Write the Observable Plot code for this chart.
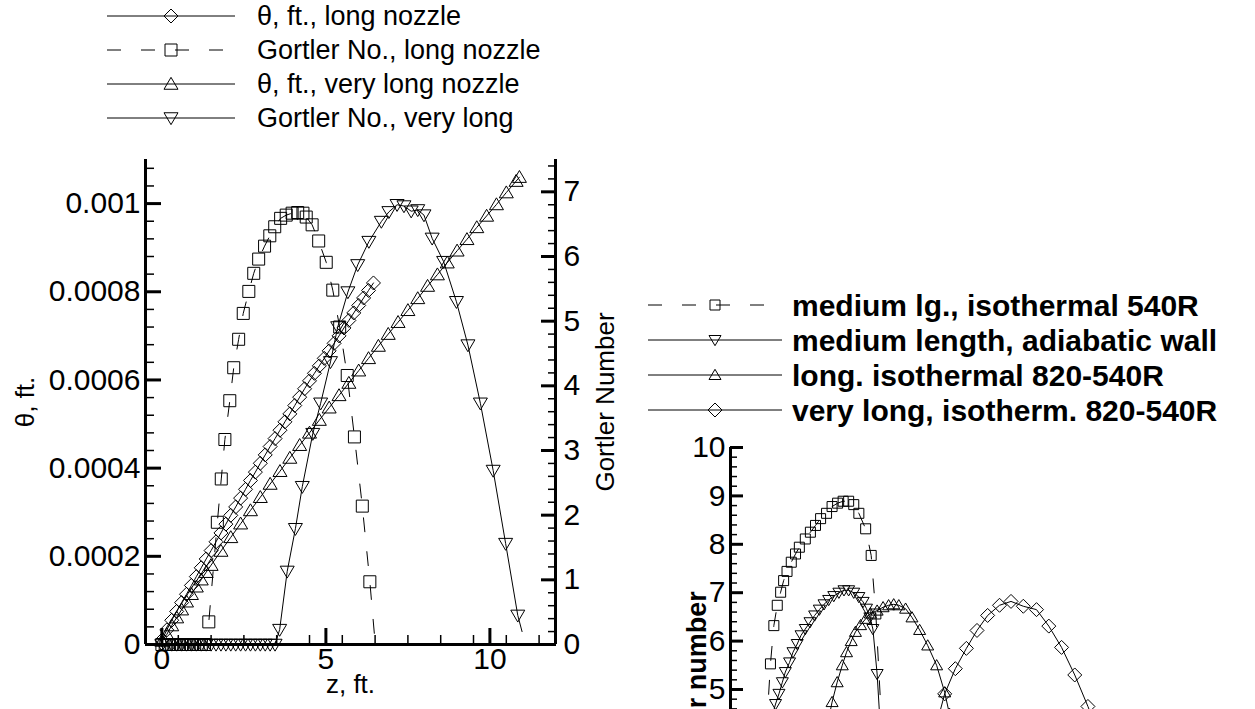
<!DOCTYPE html>
<html><head><meta charset="utf-8">
<script src="https://cdn.jsdelivr.net/npm/d3@7"></script>
<script src="https://cdn.jsdelivr.net/npm/@observablehq/plot@0.6"></script>
<style>
html,body{margin:0;padding:0;background:#fff;}
#root{position:relative;width:1255px;height:709px;overflow:hidden;background:#fff;font-family:"Liberation Sans",Arial,Helvetica,sans-serif;}
#root svg{position:absolute;}
</style></head>
<body><div id="root"></div>
<script>
// ---------------- LEFT PANEL DATA ----------------
const zThetaLong = [0.00,0.15,0.30,0.45,0.60,0.75,0.90,1.05,1.20,1.35,1.50,1.65,1.80,1.95,2.10,2.25,2.40,2.55,2.70,2.85,3.00,3.15,3.30,3.45,3.60,3.75,3.90,4.05,4.20,4.35,4.50,4.65,4.80,4.95,5.10,5.25,5.40,5.55,5.70,5.85,6.00,6.15,6.30,6.45];
const thetaLong = [0.000010,0.000033,0.000055,0.000075,0.000095,0.000114,0.000134,0.000154,0.000174,0.000194,0.000213,0.000233,0.000253,0.000273,0.000293,0.000312,0.000332,0.000352,0.000372,0.000391,0.000411,0.000430,0.000449,0.000467,0.000486,0.000505,0.000523,0.000542,0.000561,0.000580,0.000598,0.000615,0.000632,0.000649,0.000666,0.000683,0.000700,0.000718,0.000735,0.000752,0.000769,0.000786,0.000803,0.000820];

const zThetaVeryLong = [0.00,0.15,0.30,0.45,0.60,0.75,0.90,1.05,1.20,1.35,1.50,1.80,2.10,2.40,2.70,3.00,3.30,3.60,3.90,4.20,4.50,4.80,5.10,5.40,5.70,6.00,6.30,6.60,6.90,7.20,7.50,7.80,8.10,8.40,8.70,9.00,9.30,9.60,9.90,10.20,10.50,10.80,10.90];
const thetaVeryLong = [0.000008,0.000023,0.000043,0.000061,0.000079,0.000097,0.000114,0.000131,0.000147,0.000164,0.000180,0.000212,0.000243,0.000274,0.000304,0.000334,0.000364,0.000393,0.000423,0.000452,0.000480,0.000509,0.000537,0.000565,0.000593,0.000621,0.000649,0.000677,0.000704,0.000731,0.000758,0.000785,0.000813,0.000839,0.000866,0.000893,0.000919,0.000946,0.000972,0.000998,0.001025,0.001051,0.001060];

const zGortLong = [0,0.1,0.2,0.3,0.4,0.5,0.6,0.7,0.8,0.9,1.0,1.1,1.2,1.3,1.43,1.69,1.81,1.92,2.07,2.19,2.34,2.48,2.65,2.80,2.95,3.13,3.29,3.44,3.62,3.79,3.97,4.14,4.30,4.40,4.58,4.78,5.01,5.21,5.42,5.65,5.87,6.11,6.34,6.48];
const gortLong = [0,0,0,0,0,0,0,0,0,0,0,0,0,0,0.35,1.89,2.56,3.17,3.77,4.28,4.72,5.12,5.46,5.74,5.96,6.16,6.32,6.46,6.59,6.64,6.67,6.68,6.67,6.61,6.49,6.24,5.91,5.48,4.91,4.16,3.21,2.14,0.97,0.15];

const zGortVeryLong = [0,0.15,0.30,0.45,0.60,0.75,0.90,1.05,1.20,1.35,1.50,1.65,1.80,1.95,2.10,2.25,2.40,2.55,2.70,2.85,3.00,3.15,3.30,3.45,3.59,3.82,4.07,4.28,4.60,4.84,5.14,5.36,5.67,5.97,6.31,6.69,6.92,7.17,7.38,7.60,7.80,7.99,8.24,8.59,8.98,9.33,9.71,10.10,10.48,10.85,10.98];
const gortVeryLong = [0,0,0,0,0,0,0,0,0,0,0,0,0,0,0,0,0,0,0,0,0,0,0,0,0.23,1.13,1.79,2.44,3.26,3.73,4.37,4.91,5.45,5.87,6.23,6.54,6.69,6.80,6.78,6.70,6.72,6.64,6.28,5.92,5.30,4.63,3.73,2.69,1.56,0.45,0.20];

const zTicks = [0, 5, 10];
const thetaTicks = [0, 0.0002, 0.0004, 0.0006, 0.0008, 0.001];
const thetaTickLabels = ["0", "0.0002", "0.0004", "0.0006", "0.0008", "0.001"];
const gortTicks = [0, 1, 2, 3, 4, 5, 6, 7];

const legendLeftLabels = ["θ, ft., long nozzle", "Gortler No., long nozzle", "θ, ft., very long nozzle", "Gortler No., very long"];

// ---------------- RIGHT PANEL DATA ----------------
const uMedIso = [0.85,0.94,1.02,1.10,1.18,1.25,1.33,1.43,1.53,1.62,1.76,1.88,2.00,2.12,2.26,2.39,2.52,2.65,2.78,2.90,3.02,3.18,3.31,3.42,3.55];
const gMedIso = [4.20,5.53,6.32,6.74,7.01,7.25,7.44,7.63,7.80,7.94,8.11,8.25,8.39,8.53,8.64,8.78,8.85,8.89,8.89,8.82,8.64,8.32,7.77,6.56,4.40];

const uMedAdi = [0.98,1.06,1.14,1.22,1.29,1.39,1.47,1.57,1.66,1.76,1.87,1.98,2.09,2.20,2.31,2.43,2.55,2.67,2.78,2.90,3.02,3.12,3.20,3.28,3.35,3.45,3.52];
const gMedAdi = [4.45,4.70,4.91,5.15,5.36,5.56,5.77,5.94,6.12,6.25,6.39,6.53,6.65,6.76,6.85,6.93,7.00,7.05,7.05,7.00,6.91,6.81,6.67,6.49,6.25,5.32,4.30];

const uLongIso = [2.30,2.39,2.51,2.63,2.73,2.84,2.94,3.06,3.18,3.29,3.45,3.59,3.72,3.84,3.96,4.12,4.27,4.45,4.64,4.85,5.04,5.15];
const gLongIso = [4.35,4.74,5.15,5.50,5.77,6.00,6.19,6.33,6.46,6.57,6.63,6.70,6.74,6.76,6.74,6.67,6.49,6.23,5.91,5.50,4.94,4.50];

const uVeryLongIso = [4.90,5.04,5.29,5.55,5.80,6.05,6.33,6.60,6.89,7.20,7.49,7.79,8.10,8.41,8.65];
const gVeryLongIso = [4.45,4.91,5.43,5.85,6.22,6.53,6.74,6.82,6.72,6.65,6.31,5.87,5.30,4.65,4.10];

const rightGTicks = [0,1,2,3,4,5,6,7,8,9,10];
const legendRightLabels = ["medium lg., isothermal 540R", "medium length, adiabatic wall", "long. isothermal 820-540R", "very long, isotherm. 820-540R"];

// ---------------- helpers ----------------
const FONT = '"Liberation Sans", Arial, Helvetica, sans-serif';
const DASH = "14,20";
function sym(fn) { return {draw(c, size) { fn(c, Math.sqrt(size / Math.PI)); }}; }
const diamondSym = sym((c, h) => { c.moveTo(0, -h); c.lineTo(h, 0); c.lineTo(0, h); c.lineTo(-h, 0); c.closePath(); });
const squareSym = sym((c, h) => { c.moveTo(-h, -h); c.lineTo(h, -h); c.lineTo(h, h); c.lineTo(-h, h); c.closePath(); });
const upTriSym = sym((c, h) => { c.moveTo(0, -0.95 * h); c.lineTo(h, 0.75 * h); c.lineTo(-h, 0.75 * h); c.closePath(); });
const downTriSym = sym((c, h) => { c.moveTo(0, 0.95 * h); c.lineTo(h, -0.75 * h); c.lineTo(-h, -0.75 * h); c.closePath(); });

const pts = (xs, ys) => xs.map((x, i) => ({x, y: ys[i]}));
const minor = (lo, hi, step, majors) => d3.range(lo, hi + step / 2, step).map(v => +v.toFixed(6)).filter(v => !majors.some(m => Math.abs(m - v) < step / 10));
const intFmt = d => String(d);

function series(data, symbol, r, dashed, skipLast) {
  const dots = skipLast ? data.slice(0, -1) : data;
  return [
    Plot.line(data, {x: "x", y: "y", stroke: "black", strokeWidth: 1, strokeDasharray: dashed ? DASH : null}),
    Plot.dot(dots, {x: "x", y: "y", symbol, r, fill: "none", stroke: "black", strokeWidth: 1})
  ];
}

const root = document.getElementById("root");
function place(svg, left, top) { svg.style.left = left + "px"; svg.style.top = top + "px"; root.appendChild(svg); }

const TICK_FS = 30, TITLE_FS = 26;
const baseStyle = {fontFamily: FONT, fontSize: TICK_FS + "px", background: "transparent", color: "black", overflow: "visible"};

// ---------------- LEFT PANEL: theta (left axis) ----------------
const W = 640, H = 559, mL = 145, mR = 85, mT = 9, mB = 65;
const plotTheta = Plot.plot({
  width: W, height: H, marginLeft: mL, marginRight: mR, marginTop: mT, marginBottom: mB,
  style: baseStyle,
  x: {domain: [-0.5, 12]},
  y: {domain: [0, 0.0011]},
  marks: [
    ...series(pts(zThetaLong, thetaLong), diamondSym, 7, false, false),
    ...series(pts(zThetaVeryLong, thetaVeryLong), upTriSym, 7, false, false),
    Plot.axisX(minor(-0.5, 12, 1, zTicks).filter(v => v > -0.5 && v < 12), {tickSize: -9, strokeWidth: 1.5, fill: "none"}),
    Plot.axisX(zTicks, {tickSize: -16, strokeWidth: 3, fill: "none"}),
    Plot.axisX(zTicks, {tickSize: 0, tickPadding: 3, label: null, fontSize: TICK_FS, tickFormat: intFmt}),
    Plot.axisY(minor(0, 0.00108, 0.00004, thetaTicks), {tickSize: -9, strokeWidth: 1.5, fill: "none"}),
    Plot.axisY(thetaTicks, {tickSize: -16, strokeWidth: 3, fill: "none"}),
    Plot.axisY(thetaTicks, {tickSize: 0, tickPadding: 5, label: null, fontSize: TICK_FS,
      tickFormat: d => thetaTickLabels[thetaTicks.indexOf(d)]}),
    Plot.ruleX([-0.5], {strokeWidth: 3}),
    Plot.ruleY([0], {strokeWidth: 3}),
    Plot.text(["z, ft."], {frameAnchor: "bottom", dy: 48, fontSize: TITLE_FS, textAnchor: "middle"}),
    Plot.text(["θ, ft."], {frameAnchor: "left", dx: -120, rotate: -90, fontSize: TITLE_FS, textAnchor: "middle"})
  ]
});
place(plotTheta, 0, 150);

// ---------------- LEFT PANEL: Gortler (right axis) ----------------
const plotGort = Plot.plot({
  width: W, height: H, marginLeft: mL, marginRight: mR, marginTop: mT, marginBottom: mB,
  style: baseStyle,
  x: {domain: [-0.5, 12], axis: null},
  y: {domain: [0, 7.5]},
  marks: [
    ...series(pts(zGortLong, gortLong), squareSym, 6, true, true),
    ...series(pts(zGortVeryLong, gortVeryLong), downTriSym, 7, false, true),
    Plot.axisY(minor(0, 7.4, 0.2, gortTicks), {anchor: "right", tickSize: -8, strokeWidth: 1.5, fill: "none"}),
    Plot.axisY(gortTicks, {anchor: "right", tickSize: -15, strokeWidth: 3, fill: "none"}),
    Plot.axisY(gortTicks, {anchor: "right", tickSize: 0, tickPadding: 8, label: null, fontSize: TICK_FS, tickFormat: intFmt}),
    Plot.ruleX([12], {strokeWidth: 3}),
    Plot.text(["Gortler Number"], {frameAnchor: "right", dx: 50, rotate: -90, fontSize: TITLE_FS, textAnchor: "middle"})
  ]
});
place(plotGort, 0, 150);

// ---------------- RIGHT PANEL ----------------
const plotRight = Plot.plot({
  width: 655, height: 560, marginLeft: 130, marginRight: 15, marginTop: 17, marginBottom: 59,
  style: baseStyle,
  x: {domain: [0, 12], axis: null},
  y: {domain: [0, 10]},
  marks: [
    ...series(pts(uMedIso, gMedIso), squareSym, 5, true, false),
    ...series(pts(uMedAdi, gMedAdi), downTriSym, 6, false, false),
    ...series(pts(uLongIso, gLongIso), upTriSym, 6, false, false),
    ...series(pts(uVeryLongIso, gVeryLongIso), diamondSym, 7, false, false),
    Plot.axisY(minor(0, 9.8, 0.2, rightGTicks), {tickSize: -7, strokeWidth: 1.5, fill: "none"}),
    Plot.axisY(rightGTicks, {tickSize: -13, strokeWidth: 3, fill: "none"}),
    Plot.axisY(rightGTicks, {tickSize: 0, tickPadding: 5, label: null, fontSize: TICK_FS, tickFormat: intFmt}),
    Plot.ruleX([0], {strokeWidth: 3}),
    Plot.ruleY([0], {strokeWidth: 3}),
    Plot.text(["Gortler number"], {x: 0, y: 5, dx: -33, rotate: -90, fontSize: 27, fontWeight: "bold", textAnchor: "middle"})
  ]
});
place(plotRight, 600, 430);

// ---------------- LEGENDS ----------------
function legend(opts) {
  const svg = d3.create("svg").attr("width", opts.width).attr("height", opts.height)
    .attr("font-family", FONT);
  opts.rows.forEach((row, i) => {
    const y = opts.y0 + i * opts.dy;
    const g = svg.append("g");
    g.append("line").attr("x1", opts.x1).attr("x2", opts.x2).attr("y1", y).attr("y2", y)
      .attr("stroke", "black").attr("stroke-width", 1)
      .attr("stroke-dasharray", row.dashed ? DASH : null);
    g.append("path").attr("d", d3.symbol(row.symbol, Math.PI * row.r * row.r)())
      .attr("transform", `translate(${(opts.x1 + opts.x2) / 2},${y})`)
      .attr("fill", "none").attr("stroke", "black").attr("stroke-width", 1);
    g.append("text").attr("x", opts.tx).attr("y", y).attr("dy", "0.35em")
      .attr("font-size", opts.fontSize).attr("font-weight", opts.fontWeight || "normal")
      .text(row.label);
  });
  return svg.node();
}

place(legend({
  width: 600, height: 140, x1: 107, x2: 235, tx: 257, y0: 16, dy: 34, fontSize: 27,
  rows: [
    {label: legendLeftLabels[0], symbol: diamondSym, r: 7, dashed: false},
    {label: legendLeftLabels[1], symbol: squareSym, r: 6, dashed: true},
    {label: legendLeftLabels[2], symbol: upTriSym, r: 7, dashed: false},
    {label: legendLeftLabels[3], symbol: downTriSym, r: 7, dashed: false}
  ]
}), 0, 0);

place(legend({
  width: 655, height: 150, x1: 48, x2: 182, tx: 192, y0: 20, dy: 35, fontSize: 30, fontWeight: "bold",
  rows: [
    {label: legendRightLabels[0], symbol: squareSym, r: 5, dashed: true},
    {label: legendRightLabels[1], symbol: downTriSym, r: 6, dashed: false},
    {label: legendRightLabels[2], symbol: upTriSym, r: 6, dashed: false},
    {label: legendRightLabels[3], symbol: diamondSym, r: 7, dashed: false}
  ]
}), 600, 285);
</script>
</body></html>
